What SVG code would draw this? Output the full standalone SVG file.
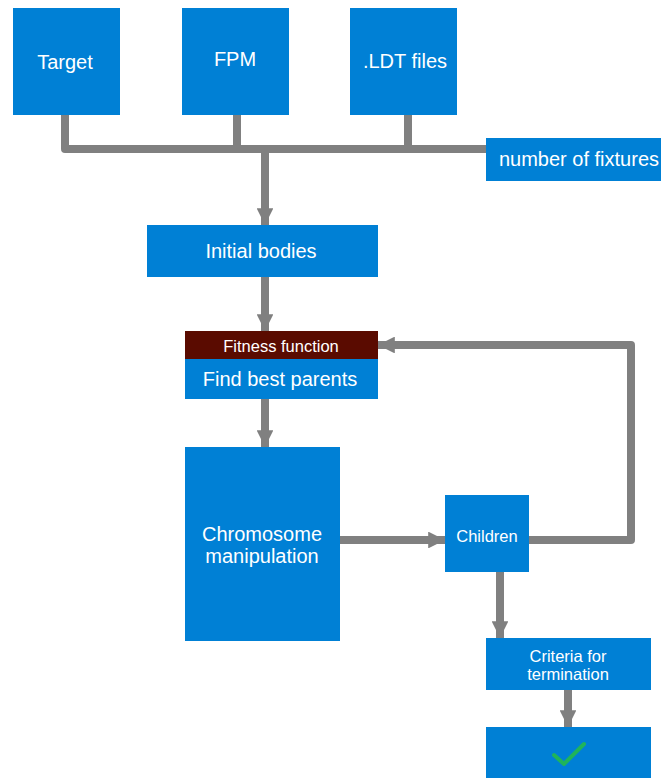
<svg xmlns="http://www.w3.org/2000/svg" width="661" height="778" viewBox="0 0 661 778">
  <defs>
    <marker id="head" viewBox="0 0 10 10" refX="10" refY="5" markerWidth="2.1" markerHeight="2.1" orient="auto" markerUnits="strokeWidth">
      <path d="M0,0 L10,5 L0,10 z" fill="#808080"/>
    </marker>
    <style>
      .box { fill: #0080d5; }
      .lbl { fill: #ffffff; font-family: "Liberation Sans", Arial, sans-serif; text-anchor: middle; }
      .big { font-size: 20px; }
      .small { font-size: 16.5px; }
      .wire { fill: none; stroke: #808080; stroke-width: 8; stroke-linejoin: round; }
    </style>
  </defs>
  <rect width="661" height="778" fill="#ffffff"/>

  <!-- connectors -->
  <g id="connectors">
    <path class="wire" d="M65,115 V149 H486"/>
    <path class="wire" d="M237,115 V149"/>
    <path class="wire" d="M408,115 V149"/>
    <path class="wire" d="M265,149 V225" marker-end="url(#head)"/>
    <path class="wire" d="M265,277 V331" marker-end="url(#head)"/>
    <path class="wire" d="M265,399 V447" marker-end="url(#head)"/>
    <path class="wire" d="M340,540 H445" marker-end="url(#head)"/>
    <path class="wire" d="M529,540 H631 V345 H378" marker-end="url(#head)"/>
    <path class="wire" d="M500,572 V638" marker-end="url(#head)"/>
    <path class="wire" d="M568,690 V727" marker-end="url(#head)"/>
  </g>

  <g id="target">
    <rect class="box" x="13" y="8" width="107" height="107"/>
    <text class="lbl big" x="65" y="69">Target</text>
  </g>
  <g id="fpm">
    <rect class="box" x="182" y="8" width="107" height="107"/>
    <text class="lbl big" x="235" y="66">FPM</text>
  </g>
  <g id="ldt">
    <rect class="box" x="350" y="8" width="107" height="107"/>
    <text class="lbl big" x="405" y="68">.LDT files</text>
  </g>
  <g id="fixtures">
    <rect class="box" x="486" y="138" width="175" height="43"/>
    <text class="lbl big" x="579" y="166">number of fixtures</text>
  </g>
  <g id="initial">
    <rect class="box" x="147" y="225" width="231" height="52"/>
    <text class="lbl big" x="261" y="258">Initial bodies</text>
  </g>
  <g id="parents">
    <rect x="185" y="331" width="193" height="28" fill="#5a0b00"/>
    <text class="lbl small" x="281" y="352">Fitness function</text>
    <rect class="box" x="185" y="359" width="193" height="40"/>
    <text class="lbl big" x="280" y="386">Find best parents</text>
  </g>
  <g id="chromosome">
    <rect class="box" x="185" y="447" width="155" height="194"/>
    <text class="lbl big" x="262" y="541">Chromosome</text>
    <text class="lbl big" x="262" y="563">manipulation</text>
  </g>
  <g id="children">
    <rect class="box" x="445" y="495" width="84" height="77"/>
    <text class="lbl small" x="487" y="542">Children</text>
  </g>
  <g id="criteria">
    <rect class="box" x="486" y="638" width="165" height="52"/>
    <text class="lbl small" x="568" y="662">Criteria for</text>
    <text class="lbl small" x="568" y="680">termination</text>
  </g>
  <g id="done">
    <rect class="box" x="486" y="727" width="165" height="51"/>
    <path d="M554,755 L564,764 L584,744" fill="none" stroke="#1fb45a" stroke-width="4" stroke-linecap="round" stroke-linejoin="round"/>
  </g>
</svg>
